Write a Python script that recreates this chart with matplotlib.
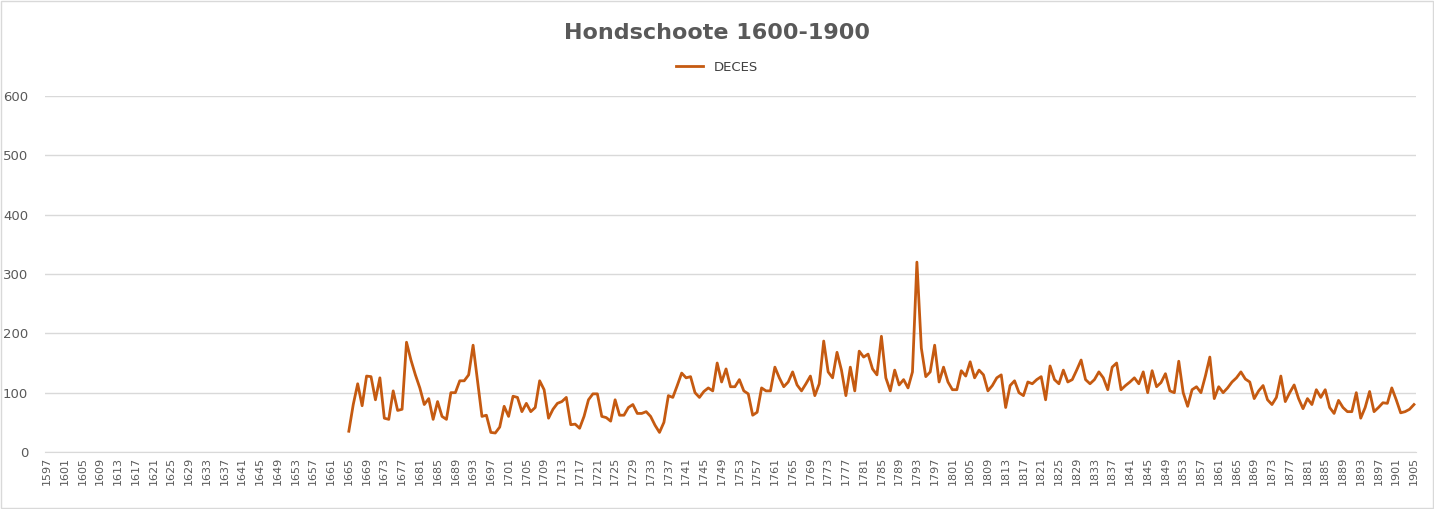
import matplotlib
matplotlib.use("Agg")
import matplotlib.pyplot as plt
import numpy as np

start_year = 1665
deces = [35,80,115,78,128,127,88,125,57,55,103,70,72,185,155,130,108,80,90,55,
85,60,55,100,100,120,120,130,180,120,60,62,33,32,42,77,60,94,92,68,
82,68,75,120,105,57,72,82,85,92,46,47,40,60,88,98,98,60,58,52,
88,62,62,75,80,65,65,68,60,45,33,50,95,92,112,133,125,127,100,92,
102,108,103,150,118,140,110,110,122,103,98,62,67,108,103,103,143,125,110,118,
135,113,103,115,128,95,115,187,135,125,168,138,95,143,103,170,160,165,140,130,
195,125,103,138,113,122,108,135,320,175,127,135,180,118,143,118,105,105,137,128,
152,125,138,130,103,112,125,130,75,112,120,100,95,118,115,122,127,88,145,122,
115,138,118,122,138,155,122,115,122,135,125,105,143,150,105,112,118,125,115,135,
100,137,110,117,132,103,100,153,100,77,105,110,100,128,160,90,110,100,108,118,
125,135,123,118,90,103,112,88,80,92,128,85,100,113,90,73,90,80,105,92,
105,75,65,87,75,68,68,100,57,75,102,68,75,83,82,108,88,66,68,72,80]
all_years = list(range(1597, 1906))
tick_labels = [str(y) for y in all_years[::4]]

data_years = list(range(start_year, start_year + len(deces)))
xpos = [all_years.index(y) for y in data_years]

fig = plt.figure(figsize=(14.34, 5.09), dpi=100)
fig.patches.append(plt.Rectangle((0.001, 0.002), 0.998, 0.996, transform=fig.transFigure,
                                 fill=False, edgecolor="#d9d9d9", linewidth=1))
ax = fig.add_axes([47/1434 - 2.2/1434, 1 - 452/509, (1414-47+4.4)/1434, (452-96)/509])
ax.plot(xpos, deces, color="#C55A11", linewidth=2, label="DECES")
ax.set_xlim(-0.5, len(all_years) - 0.5)
ax.set_ylim(0, 600)
ax.set_yticks(range(0, 601, 100))
ax.set_xticks(range(0, len(all_years), 4))
ax.set_xticklabels(tick_labels, rotation=90)
ax.tick_params(axis="both", colors="#595959", labelsize=8, length=0)
ax.tick_params(axis="y", labelsize=9.5, pad=12)
ax.grid(axis="y", color="#d9d9d9", linewidth=1)
ax.set_axisbelow(True)
for s in ["top", "right", "left"]:
    ax.spines[s].set_visible(False)
ax.spines["bottom"].set_color("#d9d9d9")
fig.text(0.5, 0.935, "Hondschoote 1600-1900", ha="center", va="center",
         fontsize=16, fontweight="bold", color="#595959")
fig.legend(loc="center", bbox_to_anchor=(0.5, 0.868), frameon=False, fontsize=9.5,
           labelcolor="#404040", handlelength=2)
fig.savefig("out.png", dpi=100)
